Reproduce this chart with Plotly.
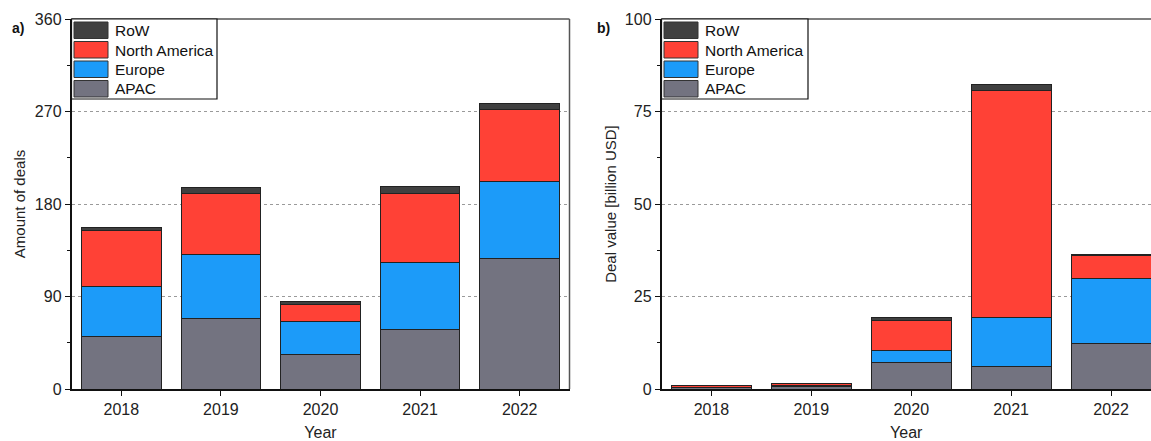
import plotly.graph_objects as go

# ---- data ----
years = ["2018", "2019", "2020", "2021", "2022"]
regions = ["APAC", "Europe", "North America", "RoW"]

deals_apac = [51, 69, 34, 58, 127]
deals_europe = [49, 62, 32, 65, 75]
deals_na = [54, 59, 16, 67, 70]
deals_row = [3, 6, 3, 7, 6]

value_apac = [0.4, 0.6, 7.2, 6.0, 12.4]
value_europe = [0.1, 0.3, 3.1, 13.3, 17.6]
value_na = [0.5, 0.55, 8.3, 61.3, 6.2]
value_row = [0.05, 0.05, 0.7, 1.8, 0.2]

deals_ticks = [0, 90, 180, 270, 360]
value_ticks = [0, 25, 50, 75, 100]

# ---- style ----
colors = {
    "APAC": "#737380",
    "Europe": "#1c9bf9",
    "North America": "#ff4136",
    "RoW": "#404040",
}
W, H = 1151, 441
TOP, BOTTOM = 19, 389
FONT = "Liberation Sans, Arial, sans-serif"


def px_x(px):
    return px / W


def px_y(py):
    return (BOTTOM - py) / (BOTTOM - TOP)


fig = go.Figure()

deals = {"APAC": deals_apac, "Europe": deals_europe,
         "North America": deals_na, "RoW": deals_row}
values = {"APAC": value_apac, "Europe": value_europe,
          "North America": value_na, "RoW": value_row}

for reg in regions:
    fig.add_trace(go.Bar(x=years, y=deals[reg], name=reg, xaxis="x", yaxis="y",
                         marker=dict(color=colors[reg], line=dict(color="#222", width=1)),
                         showlegend=False))
for reg in regions:
    fig.add_trace(go.Bar(x=years, y=values[reg], name=reg, xaxis="x2", yaxis="y2",
                         marker=dict(color=colors[reg], line=dict(color="#222", width=1)),
                         showlegend=False))

tickfont = dict(family=FONT, size=16, color="#222")
titlefont = dict(family=FONT, size=15, color="#222")
xtitlefont = dict(family=FONT, size=16, color="#222")

common_x = dict(type="category", showline=True, linecolor="#111", linewidth=1.5,
                ticks="outside", ticklen=5, tickcolor="#111", tickwidth=1.2,
                tickfont=tickfont, showgrid=False, zeroline=False, fixedrange=True,
                automargin=False)
common_y = dict(showline=True, linecolor="#111", linewidth=1.5,
                ticks="outside", ticklen=5, tickcolor="#111", tickwidth=1.2,
                tickfont=tickfont, showgrid=True, gridcolor="#9a9a9a", gridwidth=1,
                griddash="3px,3px", zeroline=False, automargin=False)

left_dom = [px_x(71.5), px_x(569.5)]
right_dom = [px_x(661.5), 1.0]

fig.update_layout(
    width=W, height=H,
    margin=dict(l=0, r=0, t=TOP, b=H - BOTTOM),
    paper_bgcolor="white", plot_bgcolor="white",
    barmode="stack", bargap=0.2,
    xaxis=dict(common_x, domain=left_dom, anchor="y", range=[-0.5, 4.5],
               title=dict(text="Year", font=xtitlefont, standoff=14)),
    yaxis=dict(common_y, domain=[0, 1], anchor="x", range=[0, 360],
               tickvals=deals_ticks,
               minor=dict(ticks="outside", ticklen=3, dtick=45, tickcolor="#111",
                          showgrid=False),
               title=dict(text="Amount of deals", font=titlefont, standoff=6)),
    xaxis2=dict(common_x, domain=right_dom, anchor="y2", range=[-0.5, 4.4],
                title=dict(text="Year", font=xtitlefont, standoff=14)),
    yaxis2=dict(common_y, domain=[0, 1], anchor="x2", range=[0, 100],
                tickvals=value_ticks,
                minor=dict(ticks="outside", ticklen=3, dtick=12.5, tickcolor="#111",
                           showgrid=False),
                title=dict(text="Deal value [billion USD]", font=titlefont, standoff=5)),
)

shapes = []
annotations = []

# frame lines on top/right of each panel (right panel runs to the page edge)
shapes.append(dict(type="line", xref="x domain", yref="y domain", x0=0, x1=1, y0=1, y1=1,
                   line=dict(color="#555", width=1.5)))
shapes.append(dict(type="line", xref="x domain", yref="y domain", x0=1, x1=1, y0=0, y1=1,
                   line=dict(color="#555", width=1.5)))
shapes.append(dict(type="line", xref="x2 domain", yref="y2 domain", x0=0, x1=1, y0=1, y1=1,
                   line=dict(color="#555", width=1.5)))

# hand-drawn legends with wide swatches
legend_order = ["RoW", "North America", "Europe", "APAC"]
for x_left, x_right in [(71.5, 217), (661.5, 808)]:
    shapes.append(dict(type="rect", xref="paper", yref="paper",
                       x0=px_x(x_left), x1=px_x(x_right), y0=px_y(TOP), y1=px_y(99),
                       line=dict(color="#111", width=1.2), fillcolor="white", layer="above"))
    for i, reg in enumerate(legend_order):
        y0 = 22 + i * 19.5
        shapes.append(dict(type="rect", xref="paper", yref="paper",
                           x0=px_x(x_left + 2.5), x1=px_x(x_left + 36.5),
                           y0=px_y(y0), y1=px_y(y0 + 16.5),
                           line=dict(color="#333", width=1), fillcolor=colors[reg],
                           layer="above"))
        annotations.append(dict(text=reg, xref="paper", yref="paper",
                                x=px_x(x_left + 41), y=px_y(y0 + 8.5),
                                xanchor="left", yanchor="middle", showarrow=False,
                                font=dict(family=FONT, size=15.5, color="#111")))

# panel labels
annotations.append(dict(text="<b>a)</b>", xref="paper", yref="paper",
                        x=px_x(10), y=px_y(28), xanchor="left", yanchor="middle",
                        showarrow=False, font=dict(family=FONT, size=14, color="#111")))
annotations.append(dict(text="<b>b)</b>", xref="paper", yref="paper",
                        x=px_x(595), y=px_y(28), xanchor="left", yanchor="middle",
                        showarrow=False, font=dict(family=FONT, size=14, color="#111")))

fig.update_layout(shapes=shapes, annotations=annotations)

fig.write_html("out.html", config={"displayModeBar": False})
